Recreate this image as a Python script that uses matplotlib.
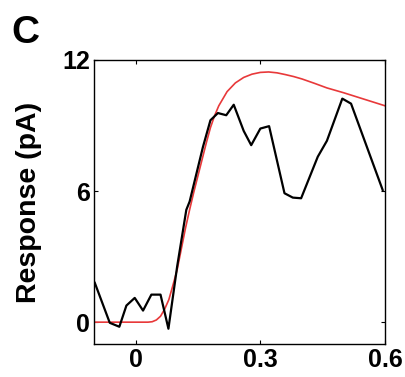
import matplotlib
matplotlib.use("Agg")
import matplotlib.pyplot as plt

# Black trace (data)
data_t = [-0.098, -0.062, -0.039, -0.022, -0.002, 0.018, 0.038, 0.060, 0.079, 0.100,
          0.122, 0.130, 0.162, 0.180, 0.198, 0.218, 0.236, 0.260, 0.278, 0.300,
          0.321, 0.358, 0.378, 0.398, 0.438, 0.460, 0.497, 0.518, 0.594]
data_r = [1.8, -0.03, -0.21, 0.76, 1.11, 0.53, 1.26, 1.26, -0.30, 2.55,
          5.14, 5.52, 8.02, 9.24, 9.57, 9.47, 9.95, 8.75, 8.10, 8.86,
          8.97, 5.90, 5.70, 5.67, 7.57, 8.30, 10.23, 10.00, 6.05]

# Red trace (model fit)
fit_t = [-0.10, 0.00, 0.03, 0.04, 0.05, 0.06, 0.07, 0.08, 0.09, 0.10,
         0.11, 0.12, 0.13, 0.14, 0.15, 0.16, 0.17, 0.18, 0.19, 0.20,
         0.22, 0.24, 0.26, 0.28, 0.30, 0.32, 0.34, 0.36, 0.38, 0.40,
         0.43, 0.46, 0.50, 0.54, 0.57, 0.60]
fit_r = [0.0, 0.0, 0.0, 0.02, 0.10, 0.27, 0.60, 1.03, 1.70, 2.40,
         3.35, 4.30, 5.15, 5.95, 6.70, 7.45, 8.20, 8.90, 9.45, 9.90,
         10.55, 10.95, 11.20, 11.35, 11.43, 11.45, 11.41, 11.33, 11.24, 11.13,
         10.93, 10.72, 10.50, 10.26, 10.08, 9.90]

x_ticks = [0, 0.3, 0.6]
x_ticklabels = ["0", "0.3", "0.6"]
y_ticks = [0, 6, 12]
y_ticklabels = ["0", "6", "12"]

plt.rcParams['font.family'] = ['Liberation Sans', 'DejaVu Sans']

fig = plt.figure(figsize=(4.05, 3.77), dpi=100)
ax = fig.add_axes([0.232, 0.0875, 0.951 - 0.232, 0.841 - 0.0875])

ax.plot(fit_t, fit_r, color='#e8393a', lw=1.2, zorder=2)
ax.plot(data_t, data_r, color='black', lw=1.6, zorder=3)

ax.set_xlim(-0.1, 0.6)
ax.set_ylim(-1, 12)
ax.set_xticks(x_ticks)
ax.set_xticklabels(x_ticklabels, fontsize=18, fontweight='bold')
ax.set_yticks(y_ticks)
ax.set_yticklabels(y_ticklabels, fontsize=18, fontweight='bold')
ax.tick_params(direction='in', length=3, width=0.8, top=True, right=True, pad=3)
for s in ax.spines.values():
    s.set_linewidth(1.0)

ax.set_ylabel("Response (pA)", fontsize=20.5, fontweight='bold')
ax.yaxis.set_label_coords(-0.178, 0.5)
fig.text(0.028, 0.96, "C", fontsize=28, fontweight='bold', va='top', ha='left')

fig.savefig("out.png", dpi=100)
